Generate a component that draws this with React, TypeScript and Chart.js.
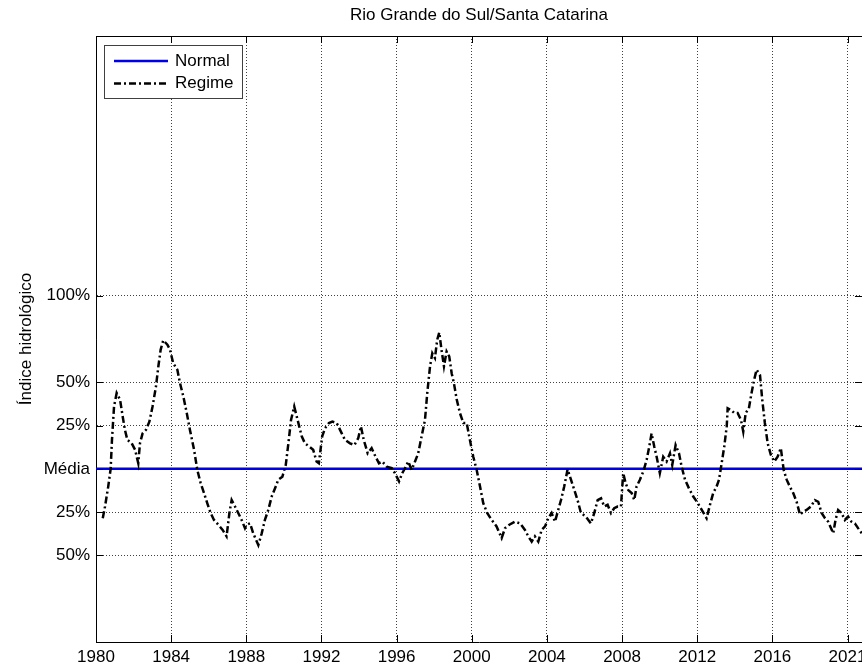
import React, { useEffect, useRef } from "react";
import { Chart, registerables } from "chart.js";

Chart.register(...registerables);

const chartTitle = "Rio Grande do Sul/Santa Catarina";
const yAxisTitle = "Índice hidrológico";

const xTickValues = [1980, 1984, 1988, 1992, 1996, 2000, 2004, 2008, 2012, 2016, 2020];
const xTickLabels = ["1980", "1984", "1988", "1992", "1996", "2000", "2004", "2008", "2012", "2016", "2021"];
const yTickValues = [-2, -1, 0, 1, 2, 4];
const yTickLabels = ["50%", "25%", "Média", "25%", "50%", "100%"];

const xMin = 1980;
const xMax = 2020.77;
const yMin = -4;
const yMax = 10;

const normalYears = [1980, 2020.77];
const normalValues = [0, 0];

const regimeYears = [
  1980.36, 1980.48, 1980.65, 1980.78, 1980.85, 1980.96, 1981.10, 1981.28, 1981.42, 1981.54,
  1981.67, 1981.90, 1982.08, 1982.25, 1982.34, 1982.48, 1982.66, 1982.84, 1983.01, 1983.19,
  1983.32, 1983.44, 1983.58, 1983.80, 1983.94, 1984.11, 1984.33, 1984.47, 1984.65, 1984.83,
  1985.00, 1985.22, 1985.39, 1985.57, 1985.75, 1985.92, 1986.10, 1986.28, 1986.51, 1986.74,
  1986.95, 1987.10, 1987.22, 1987.40, 1987.57, 1987.75, 1987.93, 1988.02, 1988.20, 1988.37,
  1988.64, 1988.82, 1988.99, 1989.17, 1989.35, 1989.53, 1989.70, 1989.92, 1990.10, 1990.24,
  1990.38, 1990.55, 1990.73, 1990.95, 1991.12, 1991.34, 1991.56, 1991.74, 1991.86, 1992.04,
  1992.19, 1992.40, 1992.58, 1992.81, 1993.08, 1993.25, 1993.52, 1993.75, 1993.96, 1994.10,
  1994.25, 1994.46, 1994.67, 1994.88, 1995.06, 1995.24, 1995.47, 1995.74, 1995.91, 1996.13,
  1996.30, 1996.45, 1996.62, 1996.80, 1996.98, 1997.15, 1997.33, 1997.51, 1997.63, 1997.78,
  1997.90, 1998.04, 1998.16, 1998.27, 1998.39, 1998.52, 1998.66, 1998.80, 1998.93, 1999.05,
  1999.20, 1999.37, 1999.55, 1999.73, 1999.90, 2000.08, 2000.26, 2000.44, 2000.61, 2000.82,
  2001.06, 2001.32, 2001.59, 2001.77, 2002.00, 2002.30, 2002.57, 2002.83, 2003.01, 2003.19,
  2003.36, 2003.54, 2003.72, 2003.90, 2004.07, 2004.25, 2004.43, 2004.60, 2004.75, 2004.92,
  2005.10, 2005.28, 2005.46, 2005.63, 2005.81, 2006.06, 2006.34, 2006.52, 2006.70, 2006.88,
  2007.05, 2007.23, 2007.41, 2007.58, 2007.76, 2007.94, 2008.06, 2008.19, 2008.33, 2008.51,
  2008.65, 2008.77, 2008.95, 2009.13, 2009.31, 2009.45, 2009.57, 2009.71, 2009.84, 2010.01,
  2010.19, 2010.37, 2010.55, 2010.67, 2010.85, 2011.03, 2011.17, 2011.35, 2011.56, 2011.79,
  2012.03, 2012.24, 2012.50, 2012.68, 2012.85, 2013.03, 2013.16, 2013.30, 2013.44, 2013.57,
  2013.62, 2013.80, 2013.97, 2014.15, 2014.33, 2014.45, 2014.58, 2014.75, 2014.89, 2015.03,
  2015.16, 2015.34, 2015.46, 2015.60, 2015.75, 2015.92, 2016.10, 2016.28, 2016.45, 2016.60,
  2016.76, 2016.93, 2017.11, 2017.29, 2017.47, 2017.64, 2017.82, 2018.05, 2018.26, 2018.44,
  2018.62, 2018.80, 2018.97, 2019.24, 2019.36, 2019.50, 2019.68, 2019.86, 2020.03, 2020.21,
  2020.39, 2020.56, 2020.76,
];

const regimeValues = [
  -1.14, -0.87, -0.41, 0.0, 0.67, 1.44, 1.75, 1.60, 1.21, 0.90,
  0.67, 0.59, 0.44, 0.13, 0.59, 0.82, 0.90, 1.09, 1.44, 1.90,
  2.37, 2.75, 2.97, 2.87, 2.75, 2.44, 2.29, 1.98, 1.67, 1.29,
  0.90, 0.44, -0.02, -0.33, -0.56, -0.79, -1.02, -1.18, -1.29, -1.41,
  -1.56, -1.02, -0.72, -0.87, -1.02, -1.18, -1.37, -1.29, -1.26, -1.49,
  -1.76, -1.49, -1.18, -0.95, -0.64, -0.45, -0.25, -0.18, 0.09, 0.59,
  1.13, 1.44, 1.13, 0.75, 0.59, 0.52, 0.44, 0.17, 0.13, 0.75,
  0.94, 1.06, 1.09, 1.06, 0.82, 0.67, 0.59, 0.55, 0.71, 0.98,
  0.67, 0.36, 0.48, 0.28, 0.13, 0.17, 0.05, 0.02, -0.10, -0.29,
  -0.10, 0.02, 0.17, -0.02, 0.17, 0.36, 0.75, 1.13, 1.75, 2.37,
  2.67, 2.56, 2.98, 3.15, 2.75, 2.37, 2.71, 2.60, 2.21, 1.98,
  1.60, 1.29, 1.06, 1.06, 0.67, 0.28, -0.02, -0.41, -0.79, -1.02,
  -1.18, -1.33, -1.60, -1.37, -1.29, -1.22, -1.26, -1.41, -1.56, -1.68,
  -1.56, -1.68, -1.41, -1.33, -1.14, -1.02, -1.22, -0.95, -0.72, -0.41,
  -0.01, -0.25, -0.49, -0.72, -1.02, -1.10, -1.26, -1.02, -0.72, -0.68,
  -0.87, -0.83, -1.02, -0.91, -0.87, -0.87, -0.10, -0.33, -0.49, -0.56,
  -0.72, -0.41, -0.25, -0.06, 0.21, 0.52, 0.82, 0.52, 0.28, -0.10,
  0.28, 0.17, 0.36, 0.09, 0.55, 0.36, 0.05, -0.25, -0.45, -0.64,
  -0.79, -0.95, -1.14, -0.83, -0.56, -0.41, -0.25, 0.13, 0.52, 0.98,
  1.40, 1.36, 1.29, 1.29, 1.13, 0.86, 1.29, 1.40, 1.75, 2.06,
  2.29, 2.17, 1.60, 1.06, 0.59, 0.32, 0.17, 0.28, 0.48, -0.02,
  -0.25, -0.41, -0.56, -0.76, -1.06, -0.99, -0.95, -0.87, -0.72, -0.76,
  -1.02, -1.14, -1.22, -1.49, -1.18, -0.95, -1.02, -1.18, -1.10, -1.22,
  -1.26, -1.37, -1.49,
];

const FONT = '"Liberation Sans", Arial, Helvetica, sans-serif';
const FONT_SIZE = 17;

const frameTicksPlugin = {
  id: "frameTicks",
  afterDatasetsDraw(chart: any) {
    const { ctx, chartArea: a, scales } = chart;
    const tl = 7;
    ctx.save();
    ctx.strokeStyle = "#000";
    ctx.lineWidth = 1;
    ctx.setLineDash([]);
    ctx.beginPath();
    ctx.moveTo(a.left, a.top + 0.5);
    ctx.lineTo(a.right, a.top + 0.5);
    for (const v of xTickValues) {
      const px = Math.round(scales.x.getPixelForValue(v)) + 0.5;
      ctx.moveTo(px, a.bottom);
      ctx.lineTo(px, a.bottom - tl);
      ctx.moveTo(px, a.top);
      ctx.lineTo(px, a.top + tl);
    }
    for (const v of yTickValues) {
      const py = Math.round(scales.y.getPixelForValue(v)) + 0.5;
      ctx.moveTo(a.left, py);
      ctx.lineTo(a.left + tl, py);
      ctx.moveTo(a.right, py);
      ctx.lineTo(a.right - tl, py);
    }
    ctx.stroke();

    // legend box
    const x0 = a.left + 8;
    const y0 = a.top + 9;
    const w = 138;
    const h = 53;
    ctx.fillStyle = "#fff";
    ctx.fillRect(x0, y0, w, h);
    ctx.strokeStyle = "#404040";
    ctx.strokeRect(x0 + 0.5, y0 + 0.5, w, h);
    chart.data.datasets.forEach((ds: any, i: number) => {
      const y = y0 + 16 + i * 22.5;
      ctx.save();
      ctx.strokeStyle = ds.borderColor;
      ctx.lineWidth = ds.borderWidth;
      ctx.setLineDash(ds.borderDash || []);
      ctx.beginPath();
      ctx.moveTo(x0 + 10, y);
      ctx.lineTo(x0 + 64, y);
      ctx.stroke();
      ctx.restore();
      ctx.fillStyle = "#000";
      ctx.font = `${FONT_SIZE}px ${FONT}`;
      ctx.textAlign = "left";
      ctx.textBaseline = "middle";
      ctx.fillText(ds.label, x0 + 71, y);
    });

    // title centred over the axes
    ctx.fillStyle = "#000";
    ctx.font = `${FONT_SIZE}px ${FONT}`;
    ctx.textAlign = "center";
    ctx.textBaseline = "middle";
    ctx.fillText(chartTitle, (a.left + a.right) / 2, 15);
    ctx.restore();
  },
};

export default function App() {
  const ref = useRef<HTMLCanvasElement | null>(null);

  useEffect(() => {
    if (!ref.current) return;
    const chart = new Chart(ref.current, {
      type: "line",
      data: {
        datasets: [
          {
            label: "Normal",
            data: normalYears.map((x, i) => ({ x, y: normalValues[i] })),
            borderColor: "#0000e6",
            borderWidth: 2.5,
            pointRadius: 0,
            tension: 0,
            order: 2,
          },
          {
            label: "Regime",
            data: regimeYears.map((x, i) => ({ x, y: regimeValues[i] })),
            borderColor: "#000",
            borderWidth: 2.5,
            borderDash: [7, 3, 2, 3],
            pointRadius: 0,
            tension: 0,
            order: 1,
          },
        ],
      },
      options: {
        responsive: false,
        animation: false,
        events: [],
        layout: { padding: { left: 0, right: 38, top: 36, bottom: 0 } },
        plugins: {
          legend: { display: false },
          tooltip: { enabled: false },
          title: { display: false },
        },
        scales: {
          x: {
            type: "linear",
            min: xMin,
            max: xMax,
            afterBuildTicks: (s: any) => {
              s.ticks = xTickValues.map((v) => ({ value: v }));
            },
            afterFit: (s: any) => {
              s.height = 25;
              s.paddingLeft = 0;
              s.paddingRight = 0;
            },
            ticks: {
              autoSkip: false,
              maxRotation: 0,
              minRotation: 0,
              padding: 5,
              color: "#000",
              font: { family: FONT, size: FONT_SIZE },
              callback: (_v: any, i: number) => xTickLabels[i],
            },
            grid: { color: "rgba(0,0,0,0.75)", lineWidth: 1, drawTicks: false },
            border: { display: true, color: "#000", width: 1, dash: [1, 2] },
          },
          y: {
            type: "linear",
            min: yMin,
            max: yMax,
            afterBuildTicks: (s: any) => {
              s.ticks = yTickValues.map((v) => ({ value: v }));
            },
            afterFit: (s: any) => {
              s.width = 96;
              s.paddingTop = 0;
              s.paddingBottom = 0;
            },
            ticks: {
              autoSkip: false,
              padding: 6,
              color: "#000",
              font: { family: FONT, size: FONT_SIZE },
              callback: (_v: any, i: number) => yTickLabels[i],
            },
            grid: { color: "rgba(0,0,0,0.75)", lineWidth: 1, drawTicks: false },
            border: { display: true, color: "#000", width: 1, dash: [1, 2] },
            title: {
              display: true,
              text: yAxisTitle,
              color: "#000",
              font: { family: FONT, size: FONT_SIZE },
              padding: { top: 16, bottom: 0 },
            },
          },
        },
      } as any,
      plugins: [frameTicksPlugin],
    });
    return () => chart.destroy();
  }, []);

  return (
    <div
      style={{
        position: "fixed",
        left: 0,
        top: 0,
        width: 862,
        height: 667,
        overflow: "hidden",
        background: "#fff",
      }}
    >
      <canvas ref={ref} width={900} height={667} style={{ display: "block", width: 900, height: 667 }} />
    </div>
  );
}
